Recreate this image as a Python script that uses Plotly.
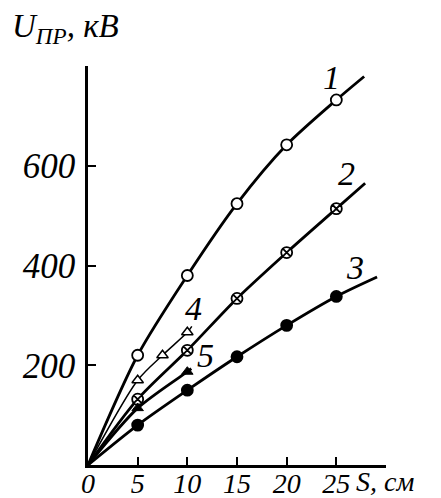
import plotly.graph_objects as go

# Measured points (S, cm -> U, kV)
s_pts = [5, 10, 15, 20, 25]
u1 = [220, 380, 524, 642, 732]
u2 = [132, 230, 334, 426, 514]
u3 = [80, 150, 217, 280, 338]
s4 = [5, 7.5, 10]
u4 = [170, 220, 266]
s5 = [5, 10]
u5 = [114, 187]

# Curve extents (drawn lines from origin through points and slightly beyond)
c1_x = [0] + s_pts + [27.8]
c1_y = [0] + u1 + [779]
c2_x = [0] + s_pts + [27.9]
c2_y = [0] + u2 + [565]
c3_x = [0] + s_pts + [29.1]
c3_y = [0] + u3 + [377]
c4_x = [0] + s4 + [10.45]
c4_y = [0] + u4 + [278]
c5_x = [0] + s5 + [10.4]
c5_y = [0] + u5 + [193]

curve_labels = ["1", "2", "3", "4", "5"]
label_x = [24.5, 26.0, 26.9, 10.6, 11.8]
label_y = [776, 584, 396, 314, 220]

x_ticks = [0, 5, 10, 15, 20, 25, 30]
x_ticklabels = ["0", "5", "10", "15", "20", "25", " "]
y_ticks = [200, 400, 600, 800]
y_ticklabels = ["200", "400", "600", " "]

FONT = "Liberation Serif"
fig = go.Figure()

def curve(x, y, w):
    fig.add_trace(go.Scatter(x=x, y=y, mode="lines", line=dict(color="black", width=w, shape="spline", smoothing=0.8),
                             cliponaxis=False, showlegend=False, hoverinfo="skip"))

def marks(x, y, symbol, size, fill, lw=1.8):
    fig.add_trace(go.Scatter(x=x, y=y, mode="markers", cliponaxis=False, showlegend=False,
                             marker=dict(symbol=symbol, size=size, color=fill, line=dict(color="black", width=lw))))

curve(c1_x, c1_y, 2.8)
curve(c2_x, c2_y, 2.8)
curve(c3_x, c3_y, 2.8)
curve(c4_x, c4_y, 1.5)
curve(c5_x, c5_y, 2.8)

marks(s_pts, u1, "circle", 11, "white")
marks(s_pts, u2, "circle-x", 11, "white")
marks(s_pts, u3, "circle", 11, "black")
marks(s4, u4, "triangle-up", 10, "white", 1.5)
marks(s5, u5, "triangle-up", 10, "black", 1)

for t, x, y in zip(curve_labels, label_x, label_y):
    fig.add_annotation(x=x, y=y, text=t, showarrow=False, xanchor="center", yanchor="middle",
                       font=dict(family=FONT, size=34, style="italic", color="black"))

fig.add_annotation(xref="paper", yref="paper", x=-0.262, y=1.037, xanchor="left", yanchor="bottom",
                   text="U<sub>ПР</sub>, кВ", showarrow=False,
                   font=dict(family=FONT, size=33, style="italic", color="black"))
fig.add_annotation(x=26.8, y=0, yshift=-16, xanchor="left", yanchor="middle",
                   text="S, см", showarrow=False,
                   font=dict(family=FONT, size=28, style="italic", color="black"))

fig.update_layout(
    width=441, height=498,
    margin=dict(l=88, r=55, t=66, b=33),
    paper_bgcolor="white", plot_bgcolor="white",
    font=dict(family=FONT, size=28, style="italic", color="black"),
)
fig.update_xaxes(range=[0, 30], tickvals=x_ticks, ticktext=x_ticklabels, ticks="inside", ticklen=8,
                 tickwidth=2, tickcolor="black", showline=True, linecolor="black", linewidth=2.5,
                 showgrid=False, zeroline=False, ticklabelstandoff=-8, automargin=False,
                 tickfont=dict(family=FONT, size=28, style="italic", color="black"))
fig.update_yaxes(range=[0, 800], tickvals=y_ticks, ticktext=y_ticklabels, ticks="inside", ticklen=8,
                 tickwidth=2, tickcolor="black", showline=True, linecolor="black", linewidth=2.5,
                 showgrid=False, zeroline=False, ticklabelstandoff=3, automargin=False,
                 tickfont=dict(family=FONT, size=35, style="italic", color="black"))

fig.write_html("out.html")
